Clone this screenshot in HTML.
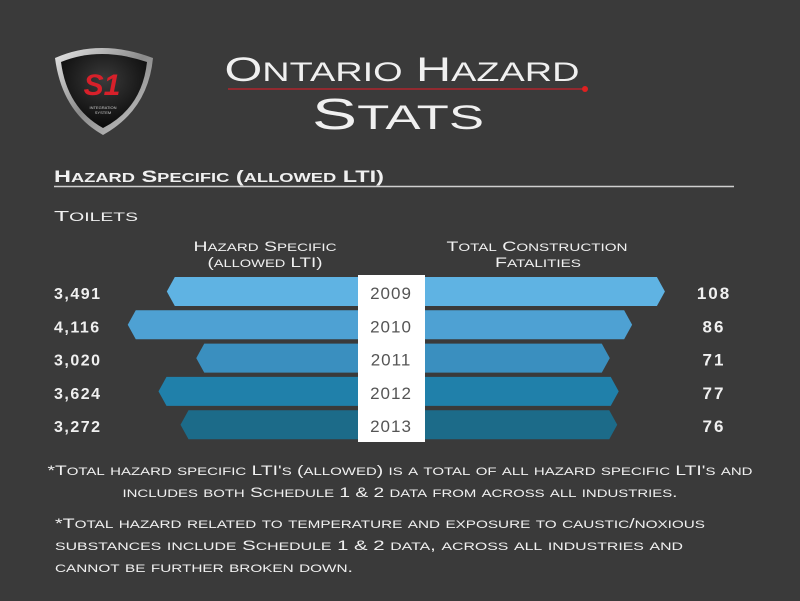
<!DOCTYPE html>
<html><head><meta charset="utf-8">
<style>
html,body{margin:0;padding:0;background:#3a3a3a;}
svg{display:block;}
text{font-family:"Liberation Sans","DejaVu Sans",sans-serif;fill:#f0f0f0;}
</style></head>
<body>
<svg id="chart" width="800" height="601" viewBox="0 0 800 601">
  <rect width="800" height="601" fill="#3a3a3a"/>
  <g>
    <defs>
      <linearGradient id="rim" x1="0" y1="0" x2="1" y2="1">
        <stop offset="0" stop-color="#e8e8e8"/><stop offset="0.5" stop-color="#8a8a8a"/><stop offset="1" stop-color="#d0d0d0"/>
      </linearGradient>
      <radialGradient id="inner" cx="0.5" cy="0.35" r="0.7">
        <stop offset="0" stop-color="#3a3a3a"/><stop offset="1" stop-color="#050505"/>
      </radialGradient>
    </defs>
    <path d="M55,58 Q100,38 153,58 Q148,110 103,135 Q62,112 55,58Z" fill="url(#rim)"/>
    <path d="M61,62 Q100,46 147,62 Q142,108 103,128 Q67,108 61,62Z" fill="url(#inner)"/>
    <text x="102" y="95" text-anchor="middle" style="font-weight:bold;font-style:italic;font-size:30px;fill:#d7202a">S1</text>
    <text x="103" y="109" text-anchor="middle" style="font-size:4px;fill:#ccc">INTEGRATION</text>
    <text x="103" y="114" text-anchor="middle" style="font-size:4px;fill:#ccc">SYSTEM</text>
  </g>
  <text class="sc" x="402" y="81" text-anchor="middle" font-size="34" textLength="355">Ontario Hazard</text>
  <line x1="228" y1="89" x2="585" y2="89" stroke="#c8202a" stroke-width="1.2"/>
  <circle cx="585" cy="89" r="3" fill="#e02020"/>
  <text class="sc" x="398" y="129" text-anchor="middle" font-size="44" textLength="172">Stats</text>
  <text class="sc" x="54" y="182" font-size="17" font-weight="bold" textLength="330">Hazard Specific (allowed LTI)</text>
  <line x1="54" y1="186.5" x2="734" y2="186.5" stroke="#cfcfcf" stroke-width="1.5"/>
  <text class="sc" x="54" y="221" font-size="15" textLength="84">Toilets</text>
  <text class="sc" x="265" y="251" text-anchor="middle" font-size="14" textLength="143">Hazard Specific</text>
  <text class="sc" x="265" y="267" text-anchor="middle" font-size="14" textLength="115">(allowed LTI)</text>
  <text class="sc" x="537" y="251" text-anchor="middle" font-size="14" textLength="181">Total Construction</text>
  <text class="sc" x="538" y="267" text-anchor="middle" font-size="14" textLength="86">Fatalities</text>
  <g id="bars"></g>
  <g id="notes">
    <text class="sc" x="400" y="475" text-anchor="middle" font-size="14" textLength="705">*Total hazard specific LTI's (allowed) is a total of all hazard specific LTI's and</text>
    <text class="sc" x="400" y="497" text-anchor="middle" font-size="14" textLength="555">includes both Schedule 1 &amp; 2 data from across all industries.</text>
    <text class="sc" x="55" y="528" font-size="14" textLength="650">*Total hazard related to temperature and exposure to caustic/noxious</text>
    <text class="sc" x="55" y="550" font-size="14" textLength="628">substances include Schedule 1 &amp; 2 data, across all industries and</text>
    <text class="sc" x="55" y="572" font-size="14" textLength="298">cannot be further broken down.</text>
  </g>
</svg>
<script>
const years = ["2009","2010","2011","2012","2013"];
const hazardLTI = [3491, 4116, 3020, 3624, 3272];
const fatalities = [108, 86, 71, 77, 76];
const hazardLabels = ["3,491","4,116","3,020","3,624","3,272"];
const colors = ["#5fb3e3","#4ea1d3","#3a8fbf","#2080aa","#1c6b89"];

const NS = "http://www.w3.org/2000/svg";

document.querySelectorAll('text.sc').forEach(t => {
  const s = t.textContent;
  const fs = parseFloat(t.getAttribute('font-size'));
  t.textContent = '';
  let i = 0;
  while (i < s.length) {
    const low = /[a-z]/.test(s[i]);
    let j = i;
    while (j < s.length && /[a-z]/.test(s[j]) === low) j++;
    const sp = document.createElementNS(NS, 'tspan');
    sp.setAttribute('font-size', low ? fs * 0.78 : fs);
    sp.textContent = s.slice(i, j).toUpperCase();
    t.appendChild(sp);
    i = j;
  }
  t.setAttribute('lengthAdjust', 'spacingAndGlyphs');
});

const cx = 391;
function leftLen(v){ return 6 + 0.0625 * v; }
function rightLen(v){ return 113 + 1.49 * v; }
function rowY(i){ return 277 + i * 33.3; }
const bh = 29, tip = 8;
const g = document.getElementById('bars');
years.forEach((yr, i) => {
  const y = rowY(i);
  const lx = cx - leftLen(hazardLTI[i]);
  const rx = cx + rightLen(fatalities[i]);
  const lp = document.createElementNS(NS,'polygon');
  lp.setAttribute('points', `${lx+tip},${y} ${cx},${y} ${cx},${y+bh} ${lx+tip},${y+bh} ${lx},${y+bh/2}`);
  lp.setAttribute('fill', colors[i]);
  
  
  g.appendChild(lp);
  const rp = document.createElementNS(NS,'polygon');
  rp.setAttribute('points', `${cx},${y} ${rx-tip},${y} ${rx},${y+bh/2} ${rx-tip},${y+bh} ${cx},${y+bh}`);
  rp.setAttribute('fill', colors[i]);
  
  
  g.appendChild(rp);
  const lt = document.createElementNS(NS,'text');
  lt.setAttribute('x', 54); lt.setAttribute('y', y + 22);
  lt.setAttribute('font-size', '16'); lt.setAttribute('font-weight', 'bold');
  lt.setAttribute('letter-spacing', '1.5');
  lt.textContent = hazardLabels[i];
  
  
  g.appendChild(lt);
  const rt = document.createElementNS(NS,'text');
  rt.setAttribute('x', 714); rt.setAttribute('y', y + 22);
  rt.setAttribute('text-anchor', 'middle');
  rt.setAttribute('font-size', '17'); rt.setAttribute('font-weight', 'bold');
  rt.setAttribute('letter-spacing', '2');
  rt.textContent = fatalities[i];
  
  
  g.appendChild(rt);
});
const box = document.createElementNS(NS,'rect');
box.setAttribute('x', 358); box.setAttribute('y', 275);
box.setAttribute('width', 67); box.setAttribute('height', 167);
box.setAttribute('fill', '#ffffff');


g.appendChild(box);
years.forEach((yr, i) => {
  const t = document.createElementNS(NS,'text');
  t.setAttribute('x', cx); t.setAttribute('y', rowY(i) + 22);
  t.setAttribute('text-anchor', 'middle');
  t.setAttribute('font-size', '17');
  t.setAttribute('letter-spacing', '1');
  t.setAttribute('style', 'fill:#555');
  t.textContent = yr;
  
  
  g.appendChild(t);
});
</script>
</body></html>
